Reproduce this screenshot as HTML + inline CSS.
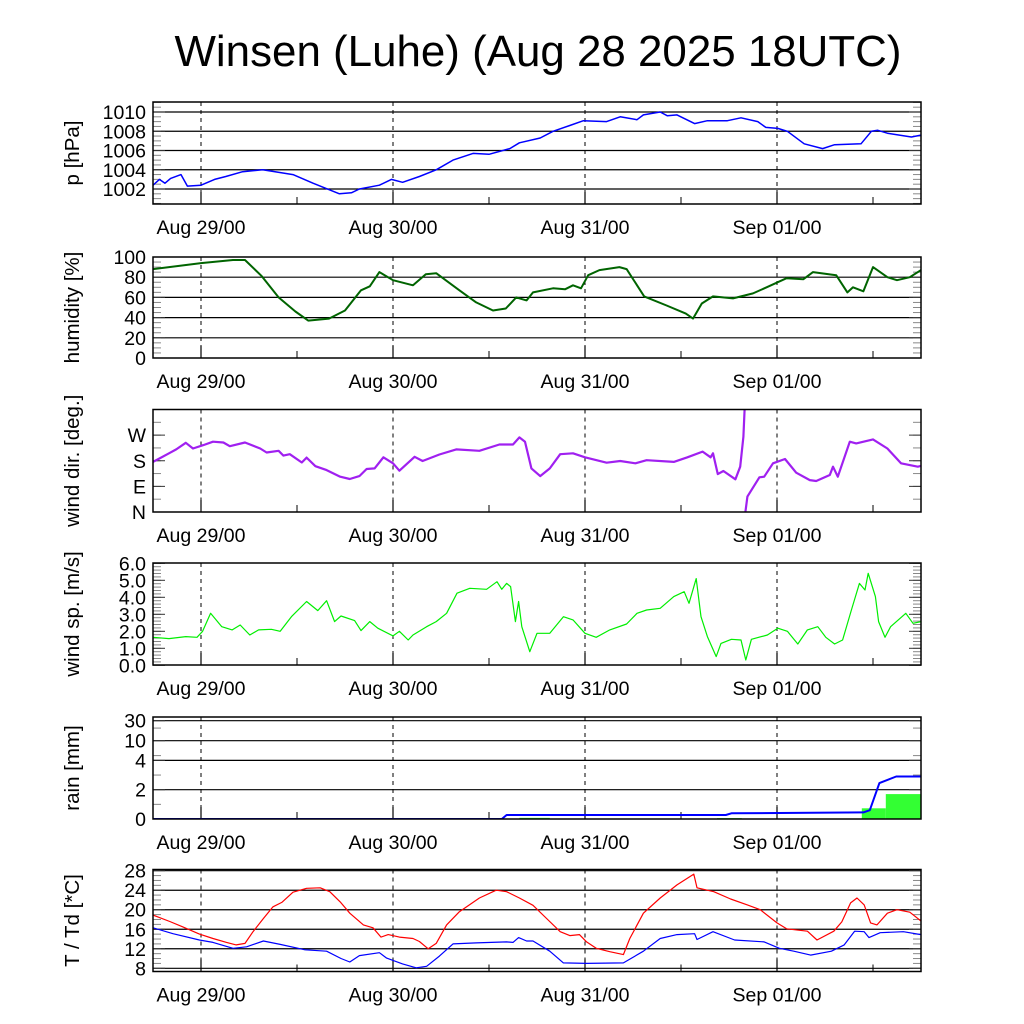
<!DOCTYPE html>
<html><head><meta charset="utf-8"><title>Winsen (Luhe) meteogram</title>
<style>
html,body{margin:0;padding:0;background:#fff;}
svg{display:block;font-family:"Liberation Sans",sans-serif;}
</style></head>
<body>
<svg id="chart" width="1024" height="1024" viewBox="0 0 1024 1024" xmlns="http://www.w3.org/2000/svg">
<rect x="0" y="0" width="1024" height="1024" fill="#fff"/>
<text x="538" y="66" font-size="44" text-anchor="middle" textLength="727" lengthAdjust="spacingAndGlyphs">Winsen (Luhe) (Aug 28 2025 18UTC)</text>
</svg>
<script>
// ---- time axis data (hours since Aug 28 18UTC) ----
const dayLabels = ["Aug 29/00","Aug 30/00","Aug 31/00","Sep 01/00"];
const dayHours = [6,30,54,78];

// ---- pressure ----
const pTimes = [0,0.8,1.5,2.2,3.5,4.3,6,7.7,9.1,11.2,13.7,17.5,20,23.3,24.8,25.8,28.3,29.8,31.2,33.3,35.4,37.5,40,42,44.6,45.8,48.4,50,52.1,53.8,56.7,58.4,60.5,61.3,63.4,64.3,65.5,67.7,69.3,71.8,73.5,75.6,76.6,78.1,79.3,81.4,83.7,85.2,88.5,89.8,90.6,91.8,94.8,96];
const pVals = [1002.4,1003.0,1002.6,1003.1,1003.5,1002.3,1002.4,1003.0,1003.3,1003.8,1004.0,1003.5,1002.6,1001.5,1001.6,1002.0,1002.4,1003.0,1002.7,1003.3,1004.0,1005.0,1005.7,1005.6,1006.2,1006.8,1007.3,1008.0,1008.6,1009.1,1009.0,1009.5,1009.2,1009.7,1010.0,1009.6,1009.7,1008.8,1009.1,1009.1,1009.4,1009.0,1008.4,1008.3,1008.0,1006.7,1006.2,1006.6,1006.7,1008.0,1008.1,1007.8,1007.4,1007.6];

// ---- humidity ----
const hTimes = [0,6,10,11.5,13.6,15.7,17.8,19.4,22,24,26,27.1,28.3,30,32.5,34.1,35.4,38.3,40.4,42.5,44.1,45.4,46.7,47.5,50,51.5,52.5,53.5,54.4,55.8,58.3,59.2,61.4,64.2,66.6,67.5,68.6,70,72.5,75,76.7,79.2,81.3,82.5,85.4,86.8,87.5,88.8,90,91.8,93,94.6,96];
const hVals = [88,94,97,97,81,60,46,37,39,47,67,71,85,77,72,83,84,67,55,47,49,60,57,65,69,68,72,69,82,87,90,88,61,52,44,39,54,61,59,64,70,79,78,85,82,65,70,66,90,80,77,80,87];

// ---- wind direction (deg), null = wrap break ----
const dTimes = [0,0.8,2,2.9,4.1,5,6.3,7.5,8.8,9.6,11.5,13.4,14.2,15.7,16.3,17.1,18.6,19.2,20.3,21.7,23.4,24.6,25.8,26.7,27.7,28.8,30,30.8,32.7,33.7,35.8,37.9,40.8,43.3,45,45.8,46.5,47.3,48.4,49.6,50.9,52.5,54,56.7,58.4,60.3,61.7,65.1,66.8,68.7,69.7,70,70.6,71.3,72.8,73.4,73.8,73.95,74,74.05,74.3,75.8,76.4,77.5,79,80.4,82.1,82.9,84.6,85,85.6,87.1,87.9,90,91.8,93.5,95.6,96];
const dVals = [176,188,206,220,243,223,235,247,244,231,244,223,209,215,198,203,174,191,161,147,124,116,126,151,153,192,171,145,194,179,202,220,215,237,237,262,247,153,126,153,203,206,192,173,179,171,182,176,192,212,192,206,133,144,115,159,264,360,null,0,54,122,124,171,186,138,112,109,130,159,124,247,241,255,223,171,159,162];

// ---- wind speed (m/s) ----
const sTimes = [0,2,4.1,5.5,6.2,7.2,8.6,9.9,10.9,12.1,13.2,14.8,15.9,17.3,19.2,20.6,21.7,22.7,23.5,25.2,26,27.1,28.1,30,30.8,31.9,32.5,34.2,35.4,36.7,38,39.6,41.7,43,43.6,44.2,44.7,45.3,45.7,46.1,47.1,48,49.6,51.3,52.5,54,55.4,57.1,59.2,60.5,61.7,63.4,65.1,66.4,67,67.9,68.5,69.3,70.4,71,72.3,73.5,74.1,74.8,76.8,78.1,79.3,80.6,81.8,83.1,84.1,85.2,86.2,87.3,88.3,89,89.4,90.3,90.7,91.5,92.2,94.1,95,96];
const sVals = [1.65,1.57,1.69,1.65,2.0,3.06,2.27,2.08,2.37,1.78,2.08,2.12,2.0,2.86,3.75,3.22,3.8,2.57,2.9,2.63,2.04,2.57,2.18,1.73,2.0,1.49,1.78,2.27,2.57,3.06,4.24,4.53,4.47,4.92,4.47,4.82,4.63,2.57,3.75,2.27,0.8,1.88,1.88,2.86,2.67,1.88,1.65,2.08,2.43,3.06,3.25,3.35,4.04,4.33,3.65,5.1,2.86,1.69,0.51,1.29,1.53,1.49,0.31,1.53,1.78,2.18,2.0,1.25,2.08,2.27,1.65,1.25,1.49,3.25,4.82,4.43,5.41,4.04,2.57,1.65,2.27,3.06,2.47,2.57];

// ---- rain: cumulative (mm) and bars ----
const rTimes = [0,43.6,44.2,71.6,72.3,88.8,89.6,90.8,92.9,96];
const rVals = [0,0,0.27,0.27,0.39,0.45,0.6,2.45,2.9,2.9];
const barStart = [45.8,70.5,88.6,91.6];
const barEnd = [49.6,73.6,91.6,96];
const barVals = [0.08,0.06,0.73,1.7];

// ---- temperature / dew point ----
const tTimes = [0,2.1,3.7,5.8,7.5,9.2,10.4,11.5,12.5,13.8,15,16.1,17.5,19.2,20.9,22.1,23.4,24.6,26.3,27.5,28.5,29.4,30.8,32.5,33.3,34.4,35.4,36.7,38.3,40.8,42.9,44.2,45.8,47.5,49.2,50.9,52.1,53.3,54.2,55.4,57.1,58.8,59.6,61.3,63.4,65.5,67.6,68,70.1,72.2,74.3,75.9,78,79.2,81.8,83,85.1,86.1,87.2,88,88.9,89.7,90.5,91.8,93,94.6,96];
const tVals = [18.9,17.6,16.5,15.0,14.1,13.3,12.8,13.1,15.5,18.2,20.6,21.5,23.6,24.4,24.5,23.7,21.6,19.3,16.9,16.3,14.4,14.9,14.4,14.1,13.5,12.0,13.1,16.9,19.6,22.4,24.0,23.7,22.4,20.9,18.2,15.5,14.7,14.9,13.4,12.1,11.4,10.8,14.1,19.3,22.4,25.1,27.3,24.5,23.7,22.2,21.0,20.0,17.3,16.1,15.6,13.8,15.6,17.5,21.4,22.4,21.0,17.3,16.9,19.3,20.0,19.5,17.7];
const tdTimes = [0,2.5,5.8,7.5,10,11.7,13.8,15.9,19,21.7,23.5,24.6,25.8,28.3,29.2,31.2,32.9,34.2,35.8,37.5,40.4,44.2,45,45.7,46.7,47.5,49.6,51.3,54.2,58.8,61.3,63.4,65.5,67.7,68,70,72.7,76.4,78.3,80.1,82.2,84.8,86.4,87.7,88.9,89.5,90.9,93.8,96];
const tdVals = [16.3,15.1,13.8,13.3,12.1,12.4,13.6,12.9,11.8,11.5,10.0,9.3,10.6,11.2,10.1,8.9,8.1,8.4,10.5,13.0,13.2,13.4,13.3,14.3,13.6,13.6,11.5,9.1,9.0,9.1,11.5,14.1,14.9,15.1,13.9,15.5,13.8,13.4,12.1,11.5,10.7,11.5,12.8,15.6,15.5,14.3,15.3,15.5,14.9];

// ---- axis labels ----
const pTicks = [1002,1004,1006,1008,1010];
const hTicks = [0,20,40,60,80,100];
const dTickLabels = ["N","E","S","W"];
const dTickVals = [0,90,180,270];
const sTicks = [0,1,2,3,4,5,6];
const rTicks = [0,2,4,10,30];
const tTicks = [8,12,16,20,24,28];

const NS = "http://www.w3.org/2000/svg";
const svg = document.getElementById("chart");
const X0 = 153, X1 = 921, HMAX = 96;
function xOf(h){ return X0 + (X1 - X0) * h / HMAX; }
function mk(tag, attrs, parent){
  const e = document.createElementNS(NS, tag);
  for (const k in attrs) e.setAttribute(k, attrs[k]);
  (parent || svg).appendChild(e);
  return e;
}
function linY(v0, y0, v1, y1){ return v => y0 + (v - v0) * (y1 - y0) / (v1 - v0); }

function rainY(v){
  if (v <= 4) return 819 - v * 14.65;
  if (v <= 10) return 760.4 - Math.log10(v / 4) / Math.log10(2.5) * 19.7;
  return 740.7 - Math.log10(v / 10) / Math.log10(3) * 20;
}

const panels = [
  {name:"pressure", top:102, bot:204, y:linY(1002,189,1010,112), title:"p [hPa]",
   ticks:pTicks, labels:pTicks.map(String), grid:true, minor:0.5, vmin:1000.5, vmax:1011},
  {name:"humidity", top:257, bot:358, y:linY(0,358,100,257), title:"humidity [%]",
   ticks:hTicks, labels:hTicks.map(String), grid:true, minor:5, vmin:0, vmax:100},
  {name:"wind-direction", top:409.5, bot:512, y:linY(0,512,360,409.5), title:"wind dir. [deg.]",
   ticks:dTickVals, labels:dTickLabels, grid:false, minor:45, vmin:0, vmax:360},
  {name:"wind-speed", top:563, bot:665, y:linY(0,665.3,6,563.3), title:"wind sp. [m/s]",
   ticks:sTicks, labels:sTicks.map(v=>v.toFixed(1)), grid:false, minor:0.2, vmin:0, vmax:6},
  {name:"rain", top:717, bot:819, y:rainY, title:"rain [mm]",
   ticks:rTicks, labels:rTicks.map(String), grid:true, minor:null},
  {name:"temperature", top:869.5, bot:971.5, y:linY(8,968.3,28,870.7), title:"T / Td [*C]",
   ticks:tTicks, labels:tTicks.map(String), grid:true, minor:1, vmin:8, vmax:28}
];

panels.forEach((P, pi) => {
  const g = mk("g", {});
  
  
  const cid = "clip" + pi;
  const cp = mk("clipPath", {id:cid}, g);
  mk("rect", {x:X0, y:P.top, width:X1-X0, height:P.bot-P.top}, cp);

  if (P.grid) {
    P.ticks.forEach(v => {
      const y = P.y(v);
      if (y < P.top + 1 || y > P.bot - 1) return;
      const l = mk("line", {x1:X0, x2:X1, y1:y, y2:y, stroke:"#000", "stroke-width":1.2}, g);
      
      
    });
  }
  if (P.minor) {
    for (let v = P.vmin; v <= P.vmax + 1e-6; v += P.minor) {
      const y = P.y(v);
      if (y < P.top || y > P.bot) continue;
      mk("line", {x1:X0, x2:X0+8, y1:y, y2:y, stroke:"#888", "stroke-width":1}, g);
      mk("line", {x1:X1-8, x2:X1, y1:y, y2:y, stroke:"#888", "stroke-width":1}, g);
    }
  }
  if (P.name === "rain") {
    [1,3,5,20].forEach(v => {
      const y = rainY(v);
      mk("line", {x1:X0, x2:X0+8, y1:y, y2:y, stroke:"#888", "stroke-width":1}, g);
      mk("line", {x1:X1-8, x2:X1, y1:y, y2:y, stroke:"#888", "stroke-width":1}, g);
    });
  }
  P.ticks.forEach(v => {
    const y = P.y(v);
    mk("line", {x1:X0, x2:X0+12, y1:y, y2:y, stroke:"#333", "stroke-width":1}, g);
    mk("line", {x1:X1-12, x2:X1, y1:y, y2:y, stroke:"#333", "stroke-width":1}, g);
  });
  dayHours.forEach(h => {
    const x = xOf(h);
    const l = mk("line", {x1:x, x2:x, y1:P.top, y2:P.bot, stroke:"#000", "stroke-width":1, "stroke-dasharray":"4,4"}, g);
    
    
    mk("line", {x1:x, x2:x, y1:P.bot-12, y2:P.bot, stroke:"#000", "stroke-width":1.2}, g);
  });
  for (let h = 18; h <= 96; h += 24) {
    const x = xOf(h);
    mk("line", {x1:x, x2:x, y1:P.bot-7, y2:P.bot, stroke:"#000", "stroke-width":1}, g);
  }
  P.ticks.forEach((v, i) => {
    const t = mk("text", {x:146, y:P.y(v)+7, "font-size":19.5, "text-anchor":"end", fill:"#000"}, g);
    t.textContent = P.labels[i];
    
    
  });
  const cy = (P.top + P.bot) / 2;
  const tt = mk("text", {x:0, y:0, "font-size":20.5, "text-anchor":"middle", transform:"translate(79," + cy + ") rotate(-90)"}, g);
  tt.textContent = P.title;
  
  
  dayHours.forEach((h, i) => {
    const t = mk("text", {x:xOf(h), y:P.bot+30, "font-size":19.5, "text-anchor":"middle"}, g);
    t.textContent = dayLabels[i];
    
    
  });

  const data = mk("g", {"clip-path":"url(#" + cid + ")"}, g);
  P.data = data;
  const fr = mk("rect", {x:X0, y:P.top, width:X1-X0, height:P.bot-P.top, fill:"none", stroke:"#000", "stroke-width":1.5}, g);
  
  
});

function series(P, times, vals, color, width, name){
  let d = "", pen = false;
  for (let i = 0; i < times.length; i++) {
    if (vals[i] === null) { pen = false; continue; }
    d += (pen ? "L" : "M") + xOf(times[i]).toFixed(1) + "," + P.y(vals[i]).toFixed(1);
    pen = true;
  }
  const p = mk("path", {d:d, fill:"none", stroke:color, "stroke-width":width, "stroke-linejoin":"round"}, P.data);
  
  
}

barStart.forEach((s, i) => {
  const y = rainY(barVals[i]);
  const r = mk("rect", {x:xOf(s), y:y, width:xOf(barEnd[i])-xOf(s), height:819-y, fill:"#33ff33"}, panels[4].data);
  
  
});

series(panels[0], pTimes, pVals, "#0000ff", 1.5, "pressure-line");
series(panels[1], hTimes, hVals, "#006400", 2, "humidity-line");
series(panels[2], dTimes, dVals, "#a020f0", 2.2, "wind-direction-line");
series(panels[3], sTimes, sVals, "#00ee00", 1.2, "wind-speed-line");
series(panels[4], rTimes, rVals, "#0000ff", 2, "cumulative-rain-line");
series(panels[5], tdTimes, tdVals, "#0000ff", 1.2, "dewpoint-line");
series(panels[5], tTimes, tVals, "#ff0000", 1.2, "temperature-line");
</script>
</body></html>
